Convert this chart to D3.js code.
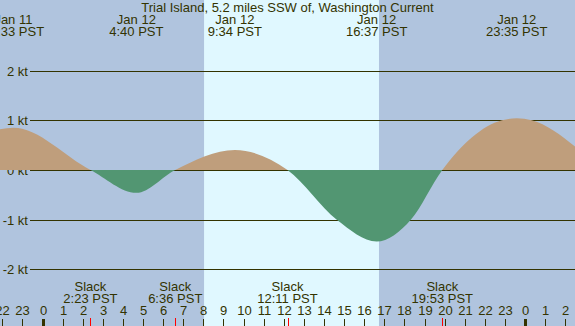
<!DOCTYPE html>
<html>
<head>
<meta charset="utf-8">
<script src="https://cdn.jsdelivr.net/npm/d3@7"></script>
<style>
  body { margin: 0; background: #b0c4de; }
  svg { display: block; }
  text { font-family: "Liberation Sans", Arial, sans-serif; font-size: 13px; fill: #333300; }
</style>
</head>
<body>
<div id="chart"></div>
<script>
// Current speed readings (kt), flood positive / ebb negative
const curveTimes = [
  "2025-01-11 21:53", "2025-01-11 22:33", "2025-01-12 02:23", "2025-01-12 04:40",
  "2025-01-12 06:36", "2025-01-12 09:34", "2025-01-12 12:11", "2025-01-12 14:38",
  "2025-01-12 16:37", "2025-01-12 18:19", "2025-01-12 19:53", "2025-01-12 22:51",
  "2025-01-12 23:35", "2025-01-13 00:20", "2025-01-13 02:30"
];
const curveSpeeds = [0.82, 0.85, 0, -0.46, 0, 0.40, 0, -1.0, -1.44, -1.0, 0, 1.0, 1.04, 1.0, 0.47];

// Max flood / max ebb events (labelled at top)
const peakTimes = ["2025-01-11 22:33", "2025-01-12 04:40", "2025-01-12 09:34", "2025-01-12 16:37", "2025-01-12 23:35"];
const peakDays = ["Jan 11", "Jan 12", "Jan 12", "Jan 12", "Jan 12"];
const peakLabels = ["22:33 PST", "4:40 PST", "9:34 PST", "16:37 PST", "23:35 PST"];

// Slack water events (labelled at bottom)
const slackTimes = ["2025-01-12 02:23", "2025-01-12 06:36", "2025-01-12 12:11", "2025-01-12 19:53"];
const slackLabels = ["2:23 PST", "6:36 PST", "12:11 PST", "19:53 PST"];

// Daylight
const sunrise = "2025-01-12 08:02";
const sunset = "2025-01-12 16:44";

const speedTicks = [2, 1, 0, -1, -2];
const title = "Trial Island, 5.2 miles SSW of, Washington Current";

const width = 575, height = 326;
const parse = d3.timeParse("%Y-%m-%d %H:%M");

const x = d3.scaleTime()
  .domain([parse("2025-01-11 21:53"), parse("2025-01-13 02:29")])
  .range([0, width]);
const y = d3.scaleLinear().domain([-2, 2]).range([269.4, 70.6]);

const svg = d3.select("#chart").append("svg")
  .attr("width", width)
  .attr("height", height);

// night / day background
svg.append("rect").attr("width", width).attr("height", height).attr("fill", "#b0c4de");
svg.append("rect")
  .attr("x", x(parse(sunrise)))
  .attr("width", x(parse(sunset)) - x(parse(sunrise)))
  .attr("height", height)
  .attr("fill", "#e0f8ff");

// speed grid lines + labels
speedTicks.forEach(v => {
  const yy = Math.round(y(v)) + 0.5;
  svg.append("line")
    .attr("x1", 30).attr("x2", width)
    .attr("y1", yy).attr("y2", yy)
    .attr("stroke", "#333300");
  svg.append("text")
    .attr("x", 28).attr("y", yy + 4.5)
    .attr("text-anchor", "end")
    .text(`${v} kt`);
});

// current curve, split into flood and ebb fills
const pts = curveTimes.map((t, i) => ({ t: parse(t), v: curveSpeeds[i] }));
const area = d3.area()
  .x(d => x(d.t))
  .y0(y(0))
  .y1(d => y(d.v))
  .curve(d3.curveMonotoneX);

const defs = svg.append("defs");
defs.append("clipPath").attr("id", "above")
  .append("rect").attr("width", width).attr("height", y(0));
defs.append("clipPath").attr("id", "below")
  .append("rect").attr("y", y(0)).attr("width", width).attr("height", height - y(0));

svg.append("path").datum(pts)
  .attr("d", area)
  .attr("fill", "#bf9e7c")
  .attr("clip-path", "url(#above)");
svg.append("path").datum(pts)
  .attr("d", area)
  .attr("fill", "#529672")
  .attr("clip-path", "url(#below)");

// title
svg.append("text")
  .attr("x", width / 2).attr("y", 12)
  .attr("text-anchor", "middle")
  .text(title);

// peak labels
peakTimes.forEach((t, i) => {
  const xx = x(parse(t));
  svg.append("text").attr("x", xx).attr("y", 24).attr("text-anchor", "middle").text(peakDays[i]);
  svg.append("text").attr("x", xx).attr("y", 36).attr("text-anchor", "middle").text(peakLabels[i]);
});

// slack labels
slackTimes.forEach((t, i) => {
  const xx = x(parse(t));
  svg.append("text").attr("x", xx).attr("y", 291).attr("text-anchor", "middle").text("Slack");
  svg.append("text").attr("x", xx).attr("y", 303).attr("text-anchor", "middle").text(slackLabels[i]);
});

// hour axis
const hours = x.ticks(d3.timeHour.every(1));
hours.forEach(h => {
  const xx = Math.round(x(h)) + 0.5;
  const midnight = h.getHours() === 0;
  svg.append("line")
    .attr("x1", xx).attr("x2", xx)
    .attr("y1", 319).attr("y2", height)
    .attr("stroke", "#333300")
    .attr("stroke-width", midnight ? 3 : 1);
  svg.append("text")
    .attr("x", xx).attr("y", 315)
    .attr("text-anchor", "middle")
    .text(h.getHours());
});

// slack markers on axis
slackTimes.forEach(t => {
  const xx = Math.round(x(parse(t))) + 0.5;
  svg.append("line")
    .attr("x1", xx).attr("x2", xx)
    .attr("y1", 318).attr("y2", height)
    .attr("stroke", "#ff0000");
});
</script>
</body>
</html>
